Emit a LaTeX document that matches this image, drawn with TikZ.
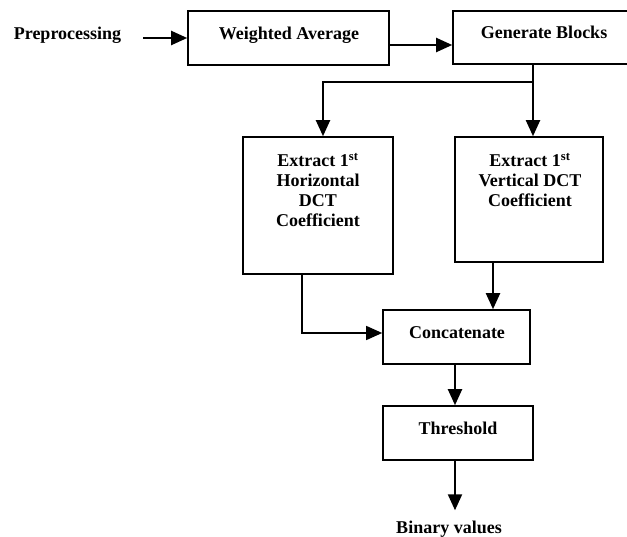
\documentclass[tikz,border=0pt]{standalone}
\usepackage{fontspec}
\setmainfont{Liberation Serif}
\usetikzlibrary{arrows.meta}
\begin{document}
\begin{tikzpicture}[x=1pt,y=-1pt,
  box/.style={draw,line width=1.6pt,inner sep=0pt,rectangle},
  lbl/.style={font=\fontsize{18}{20}\selectfont\bfseries,inner sep=0pt,align=center,anchor=base},
  arr/.style={line width=2pt,-{Triangle[length=16pt,width=14pt]}},
  ln/.style={line width=2pt}]
\useasboundingbox (0,0) rectangle (627,537);
% boxes
\node[box,minimum width=201pt,minimum height=54pt] (wa) at (288.5,38) {};
\node[box,minimum width=182pt,minimum height=53pt] (gb) at (544,37.5) {};
\node[box,minimum width=150pt,minimum height=137pt] (hb) at (318,205.5) {};
\node[box,minimum width=148pt,minimum height=125pt] (vb) at (529,199.5) {};
\node[box,minimum width=147pt,minimum height=54pt] (cc) at (456.5,337) {};
\node[box,minimum width=150pt,minimum height=54pt] (th) at (458,433) {};
% texts (base anchor = baseline of the last line)
\node[lbl] (pre) at (67.5,39.5) {Preprocessing};
\node[lbl] (twa) at (289,39.5) {Weighted Average};
\node[lbl] (tgb) at (544,39) {Generate Blocks};
\node[lbl] (thb) at (318,227) {Extract 1\textsuperscript{st}\\Horizontal\\DCT\\Coefficient};
\node[lbl] (tvb) at (530,207) {Extract 1\textsuperscript{st}\\Vertical DCT\\Coefficient};
\node[lbl] (tcc) at (457,339) {Concatenate};
\node[lbl] (tth) at (458,435) {Threshold};
\node[lbl] (bin) at (449,533) {Binary values};
% connectors
\coordinate (a0) at ([xshift=22pt]pre.east);
\draw[arr] (a0 |- wa.west) -- (wa.west);
\coordinate (w1) at ([yshift=-7pt]wa.east);
\draw[arr] (w1) -- (w1 -| gb.west);
\coordinate (g1) at ([xshift=-11pt]gb.south);
\coordinate (j1) at ([yshift=-17pt]g1);
\coordinate (h1) at ([xshift=5pt]hb.north);
\draw[ln] (g1) -- (j1);
\draw[arr] (j1) -| (h1);
\draw[arr] (j1) -- (j1 |- vb.north);
\coordinate (v1) at ([xshift=-36pt]vb.south);
\draw[arr] (v1) -- (v1 |- cc.north);
\coordinate (h2) at ([xshift=-16pt]hb.south);
\coordinate (c1) at ([yshift=4pt]cc.west);
\draw[arr,line width=1.4pt] (h2) |- (c1);
\coordinate (c2) at ([xshift=-1.5pt]cc.south);
\draw[arr] (c2) -- (c2 |- th.north);
\coordinate (t1) at ([xshift=-3pt]th.south);
\draw[arr,shorten >=10pt] (t1) -- (t1 |- bin.north);
\end{tikzpicture}
\end{document}
